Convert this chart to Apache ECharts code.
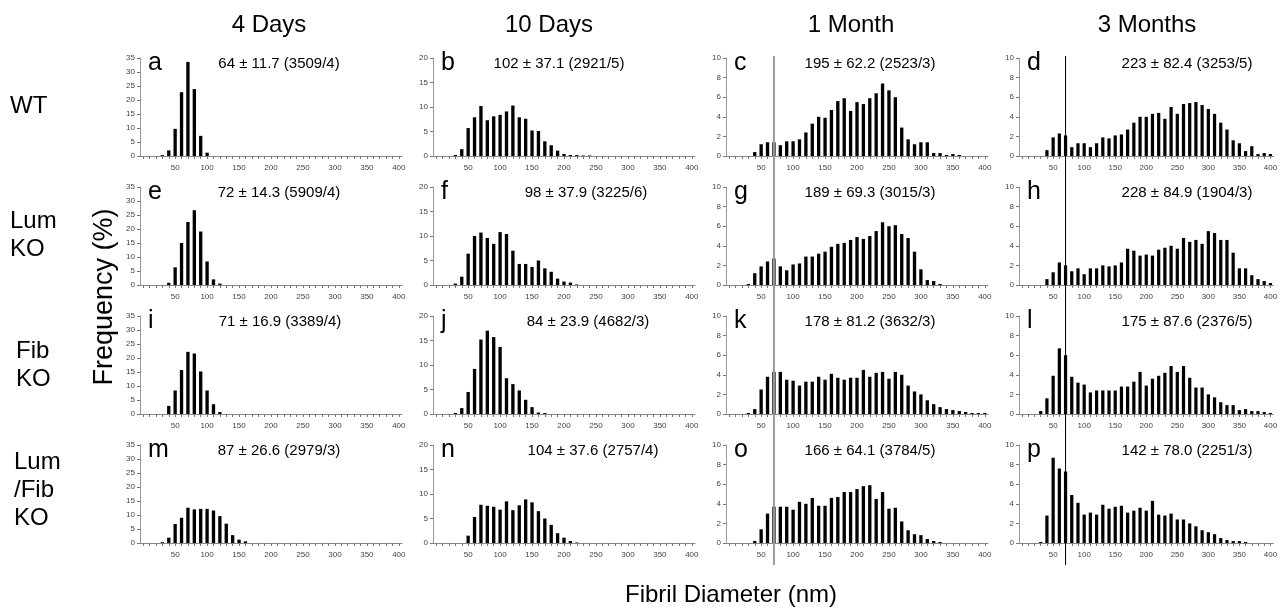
<!DOCTYPE html>
<html><head><meta charset="utf-8">
<script src="https://cdn.jsdelivr.net/npm/echarts@6/dist/echarts.min.js"></script>
<style>html,body{margin:0;padding:0;background:#fff}#c{width:1280px;height:608px}</style>
</head><body><div id="c"></div>
<script>
// ---------- DATA ----------
const diameters = ['0','10','20','30','40','50','60','70','80','90','100','110','120','130','140','150','160','170','180','190','200',
  '210','220','230','240','250','260','270','280','290','300','310','320','330','340','350','360','370','380','390','400'];
const xTickLabels = ['50','100','150','200','250','300','350','400'];
const colTitles = ['4 Days','10 Days','1 Month','3 Months'];
const rowLabels = ['WT','Lum\nKO','Fib\nKO','Lum\n/Fib\nKO'];
const panelLetters = ['a','b','c','d','e','f','g','h','i','j','k','l','m','n','o','p'];
const panelStats = [
  '64 ± 11.7 (3509/4)','102 ± 37.1 (2921/5)','195 ± 62.2 (2523/3)','223 ± 82.4 (3253/5)',
  '72 ± 14.3 (5909/4)','98 ± 37.9 (3225/6)','189 ± 69.3 (3015/3)','228 ± 84.9 (1904/3)',
  '71 ± 16.9 (3389/4)','84 ± 23.9 (4682/3)','178 ± 81.2 (3632/3)','175 ± 87.6 (2376/5)',
  '87 ± 26.6 (2979/3)','104 ± 37.6 (2757/4)','166 ± 64.1 (3784/5)','142 ± 78.0 (2251/3)'];
const yMaxByCol = [35,20,10,10];
const yStepByCol = [5,5,2,2];
const refDiameter = '70';

const a = [0,0,0,0.3,2.0,9.7,22.8,33.6,23.9,7.2, 1.2,0,0,0,0,0,0,0,0,0, 0,0,0,0,0,0,0,0,0,0, 0,0,0,0,0,0,0,0,0,0, 0];
const b = [0,0,0,0.2,1.4,5.7,7.9,10.2,7.3,8.1, 8.4,9.1,10.3,7.9,7.6,5.2,5.1,3.0,2.2,1.1, 0.4,0.2,0.2,0.1,0.1,0,0,0,0,0, 0,0,0,0,0,0,0,0,0,0, 0];
const c = [0,0,0,0,0.4,1.2,1.4,1.4,1.1,1.5, 1.5,1.7,2.4,3.3,4.0,3.9,4.7,5.6,5.9,4.6, 5.5,5.3,5.9,6.4,7.4,6.7,6.0,2.9,1.7,1.2, 1.4,1.4,0.3,0.3,0.1,0.2,0.1,0,0,0, 0];
const d = [0,0,0,0,0.6,1.9,2.3,2.1,0.9,1.3, 1.3,0.9,1.3,1.9,1.8,2.1,2.2,2.7,3.4,4.0, 4.0,4.3,4.4,3.8,5.0,4.3,5.3,5.4,5.5,5.2, 4.8,4.3,3.4,2.7,1.6,1.3,0.5,1.0,0.2,0.3, 0.2];
const e = [0,0,0,0,0.8,6.3,15.0,22.5,26.7,19.1, 8.4,2.0,0.5,0,0,0,0,0,0,0, 0,0,0,0,0,0,0,0,0,0, 0,0,0,0,0,0,0,0,0,0, 0];
const f = [0,0,0,0.3,1.7,6.4,10.0,10.7,9.6,8.4, 10.8,10.4,7.0,4.3,4.3,3.7,5.0,3.4,2.7,1.3, 0.7,0.5,0.1,0,0,0,0,0,0,0, 0,0,0,0,0,0,0,0,0,0, 0];
const g = [0,0,0,0.1,1.2,1.9,2.4,2.7,1.9,1.5, 2.1,2.2,2.9,2.9,3.2,3.4,3.9,4.2,4.3,4.6, 4.9,4.7,5.0,5.5,6.4,6.0,6.1,5.2,4.8,3.4, 1.6,0.5,0.4,0.1,0,0,0,0,0,0, 0];
const h = [0,0,0,0,0.6,1.3,2.3,2.0,1.4,1.7, 1.1,1.7,1.7,2.0,1.9,2.0,2.3,3.7,3.5,3.0, 3.1,3.0,3.6,3.8,4.0,3.7,4.8,4.4,4.6,4.2, 5.5,5.3,4.6,4.6,3.3,1.7,1.7,1.0,0.6,0.4, 0.2];
const i_ = [0,0,0,0,2.9,8.4,15.7,22.2,21.6,15.2, 8.4,3.5,0.7,0,0,0,0,0,0,0, 0,0,0,0,0,0,0,0,0,0, 0,0,0,0,0,0,0,0,0,0, 0];
const j = [0,0,0,0.2,1.2,4.5,9.2,15.2,17.0,15.7, 13.7,7.3,6.1,4.8,2.9,1.4,0.3,0.2,0,0, 0,0,0,0,0,0,0,0,0,0, 0,0,0,0,0,0,0,0,0,0, 0];
const k = [0,0,0,0.1,0.5,2.5,3.8,4.3,4.3,3.5, 3.4,2.9,3.3,3.3,3.8,3.5,4.1,3.7,3.5,3.7, 3.7,4.5,3.8,4.2,4.3,3.6,4.3,4.0,2.9,2.3, 2.0,1.4,1.0,0.7,0.5,0.4,0.3,0.2,0.1,0.1, 0.1];
const l = [0,0,0,0.3,1.6,3.9,6.7,6.0,3.8,3.2, 3.0,2.2,2.4,2.4,2.4,2.4,2.8,2.8,3.3,4.3, 2.9,3.6,3.9,4.2,4.9,4.3,4.9,3.7,2.7,2.7, 2.0,1.7,1.2,0.9,0.9,0.4,0.5,0.3,0.3,0.2, 0.1];
const m = [0,0,0,0.3,1.9,6.8,9.0,12.6,12.0,12.2, 12.2,11.6,9.6,6.9,2.8,1.2,0.6,0,0,0, 0,0,0,0,0,0,0,0,0,0, 0,0,0,0,0,0,0,0,0,0, 0];
const n = [0,0,0,0,0,1.5,5.3,7.8,7.6,7.4, 6.8,8.5,6.7,7.7,8.9,8.3,6.5,5.0,3.7,2.0, 1.1,0.4,0.1,0,0,0,0,0,0,0, 0,0,0,0,0,0,0,0,0,0, 0];
const o = [0,0,0,0,0.2,1.4,3.0,3.7,3.7,3.7, 3.4,4.2,4.0,4.6,3.8,3.8,4.6,4.7,5.2,5.2, 5.5,5.8,5.9,4.5,5.2,3.5,3.6,2.2,1.3,0.9, 0.8,0.4,0.2,0.1,0,0,0,0,0,0, 0];
const p = [0,0,0,0.1,2.8,8.7,7.6,7.3,4.9,4.1, 2.9,3.1,2.9,3.9,3.5,3.7,3.8,3.1,3.3,3.6, 3.3,4.3,2.9,2.8,3.0,2.4,2.4,2.0,1.7,1.3, 1.1,0.9,0.5,0.3,0.2,0.2,0.1,0,0,0, 0];
const panelData = [a,b,c,d,e,f,g,h,i_,j,k,l,m,n,o,p];

// ---------- LAYOUT ----------
const FONT = 'Liberation Sans, Arial, Helvetica, sans-serif';
const L0 = 140, DX = 293, T0 = 58, DY = 129, GW = 262, GH = 98;
const statCenters = [279,559,870,1187, 279,586,870,1187, 280,588,870,1187, 279,593,870,1187];
const titleCenters = [269,549,851,1147];
const rowLabelPos = [[10,106],[10,235],[16,365],[14,490]];

const chart = echarts.init(document.getElementById('c'), null, {renderer:'canvas'});
const grids=[], xAxes=[], yAxes=[], series=[];
for (let idx=0; idx<16; idx++){
  const r = Math.floor(idx/4), col = idx%4;
  grids.push({left:L0+DX*col, top:T0+DY*r, width:GW, height:GH, containLabel:false});
  xAxes.push({type:'category', gridIndex:idx, data:diameters, boundaryGap:true,
    axisLine:{lineStyle:{color:'#888', width:1}},
    axisTick:{show:true, interval:0, alignWithLabel:true, length:3, lineStyle:{color:'#777'}},
    axisLabel:{interval:(ii,v)=>xTickLabels.indexOf(v)>=0, fontSize:8, color:'#444', fontFamily:FONT, margin:8},
    splitLine:{show:false}});
  yAxes.push({type:'value', gridIndex:idx, min:0, max:yMaxByCol[col], interval:yStepByCol[col],
    axisLine:{show:true, lineStyle:{color:'#999', width:1}},
    axisTick:{show:true, length:3, lineStyle:{color:'#777'}},
    axisLabel:{fontSize:8, color:'#444', fontFamily:FONT, margin:5},
    splitLine:{show:false}});
  series.push({type:'bar', xAxisIndex:idx, yAxisIndex:idx, data:panelData[idx],
    barWidth:'52%', itemStyle:{color:'#000'}, silent:true, animation:false});
}
chart.setOption({animation:false, grid:grids, xAxis:xAxes, yAxis:yAxes, series:series});

const gfx = [];
colTitles.forEach((t,ci)=>gfx.push({type:'text', x:titleCenters[ci], y:25,
  style:{text:t, font:'24px '+FONT, fill:'#000', align:'center', verticalAlign:'middle'}}));
rowLabels.forEach((t,ri)=>gfx.push({type:'text', x:rowLabelPos[ri][0], y:rowLabelPos[ri][1],
  style:{text:t, font:'24px '+FONT, fill:'#000', align:'left', verticalAlign:'middle', lineHeight:28}}));
gfx.push({type:'text', x:105, y:297, rotation:Math.PI/2,
  style:{text:'Frequency (%)', font:'27px '+FONT, fill:'#000', align:'center', verticalAlign:'middle'}});
gfx.push({type:'text', x:731, y:595,
  style:{text:'Fibril Diameter (nm)', font:'24px '+FONT, fill:'#000', align:'center', verticalAlign:'middle'}});
for (let idx=0; idx<16; idx++){
  const r = Math.floor(idx/4), col = idx%4;
  gfx.push({type:'text', x:L0+DX*col+8, y:T0+DY*r+5,
    style:{text:panelLetters[idx], font:'25px '+FONT, fill:'#000', align:'left', verticalAlign:'middle'}});
  gfx.push({type:'text', x:statCenters[idx], y:T0+DY*r+6,
    style:{text:panelStats[idx], font:'15px '+FONT, fill:'#000', align:'center', verticalAlign:'middle'}});
}
// continuous reference lines at 70 nm for columns 3 and 4
[[2,'#9a9a9a',2],[3,'#000',1]].forEach(([col,color,w])=>{
  const x = chart.convertToPixel({xAxisIndex:col}, refDiameter);
  const yTop = chart.convertToPixel({yAxisIndex:col}, yMaxByCol[col]) - 2;
  const yBot = chart.convertToPixel({yAxisIndex:12+col}, 0) + 22;
  gfx.push({type:'line', shape:{x1:x, y1:yTop, x2:x, y2:yBot}, style:{stroke:color, lineWidth:w}, z:10});
});
chart.setOption({graphic:gfx});
</script></body></html>
